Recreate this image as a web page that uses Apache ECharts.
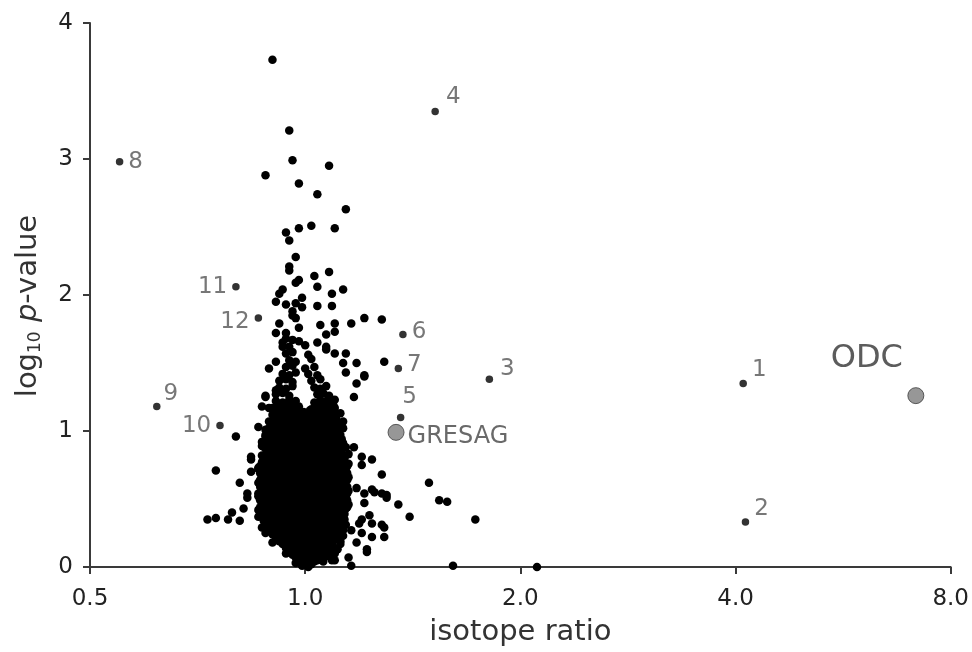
<!DOCTYPE html>
<html><head><meta charset="utf-8">
<script src="https://cdn.jsdelivr.net/npm/echarts@6/dist/echarts.min.js"></script>
<style>html,body{margin:0;padding:0;background:#fff}#c{width:972px;height:652px}</style>
</head><body><div id="c"></div>
<script>
// ---- labelled proteins (isotope ratio, log10 p-value) ----
const geneNames = ['1','2','3','4','5','6','7','8','9','10','11','12'];
const geneRatio = [4.10, 4.13, 1.81, 1.52, 1.36, 1.37, 1.35, 0.55, 0.62, 0.76, 0.80, 0.86];
const geneLogP  = [1.35, 0.33, 1.38, 3.35, 1.10, 1.71, 1.46, 2.98, 1.18, 1.04, 2.06, 1.83];

// ---- highlighted proteins ----
const markerNames = ['GRESAG', 'ODC'];
const markerRatio = [1.34, 7.15];
const markerLogP  = [0.99, 1.26];

// ---- axis ticks ----
const xTicks = [0.5, 1.0, 2.0, 4.0, 8.0];
const yTicks = [0, 1, 2, 3, 4];

// ---- unlabelled proteins: dense core [ratio, log10 p] ----
const cloudCore = [
[0.99,0.01],[1.00,0.03],[1.02,0.02],[1.03,0.04],[1.01,0.00],
[0.97,0.07],[0.99,0.06],[1.01,0.08],[1.03,0.07],[1.05,0.06],[1.07,0.08],[1.09,0.05],
[0.95,0.12],[0.97,0.11],[0.99,0.13],[1.01,0.12],[1.03,0.11],[1.05,0.13],[1.07,0.12],[1.09,0.11],[1.11,0.13],
[0.93,0.17],[0.95,0.16],[0.97,0.18],[0.99,0.17],[1.01,0.16],[1.03,0.18],[1.05,0.17],[1.07,0.16],[1.09,0.18],[1.12,0.17],
[0.91,0.22],[0.93,0.21],[0.95,0.23],[0.97,0.22],[0.99,0.21],[1.01,0.23],[1.03,0.22],[1.05,0.21],[1.07,0.23],[1.09,0.22],[1.11,0.21],[1.13,0.23],
[0.89,0.27],[0.91,0.28],[0.93,0.26],[0.95,0.27],[0.97,0.28],[0.99,0.26],[1.01,0.27],[1.03,0.28],[1.05,0.26],[1.07,0.27],[1.09,0.28],[1.11,0.26],[1.13,0.27],
[0.88,0.32],[0.90,0.31],[0.92,0.33],[0.94,0.32],[0.96,0.31],[0.98,0.33],[1.00,0.32],[1.02,0.31],[1.04,0.33],[1.06,0.32],[1.08,0.31],[1.10,0.33],[1.12,0.32],[1.14,0.31],
[0.87,0.37],[0.89,0.38],[0.91,0.36],[0.93,0.37],[0.95,0.38],[0.97,0.36],[0.99,0.37],[1.01,0.38],[1.03,0.36],[1.05,0.37],[1.07,0.38],[1.09,0.36],[1.11,0.37],[1.13,0.38],
[0.86,0.42],[0.88,0.41],[0.90,0.43],[0.92,0.42],[0.94,0.41],[0.96,0.43],[0.98,0.42],[1.00,0.41],[1.02,0.43],[1.04,0.42],[1.06,0.41],[1.08,0.43],[1.10,0.42],[1.12,0.41],[1.14,0.43],
[0.87,0.47],[0.89,0.48],[0.91,0.46],[0.93,0.47],[0.95,0.48],[0.97,0.46],[0.99,0.47],[1.01,0.48],[1.03,0.46],[1.05,0.47],[1.07,0.48],[1.09,0.46],[1.11,0.47],[1.13,0.48],[1.15,0.46],
[0.86,0.52],[0.88,0.51],[0.90,0.53],[0.92,0.52],[0.94,0.51],[0.96,0.53],[0.98,0.52],[1.00,0.51],[1.02,0.53],[1.04,0.52],[1.06,0.51],[1.08,0.53],[1.10,0.52],[1.12,0.51],[1.14,0.53],
[0.87,0.57],[0.89,0.58],[0.91,0.56],[0.93,0.57],[0.95,0.58],[0.97,0.56],[0.99,0.57],[1.01,0.58],[1.03,0.56],[1.05,0.57],[1.07,0.58],[1.09,0.56],[1.11,0.57],[1.13,0.58],[1.15,0.56],
[0.86,0.62],[0.88,0.61],[0.90,0.63],[0.92,0.62],[0.94,0.61],[0.96,0.63],[0.98,0.62],[1.00,0.61],[1.02,0.63],[1.04,0.62],[1.06,0.61],[1.08,0.63],[1.10,0.62],[1.12,0.61],[1.14,0.63],
[0.87,0.67],[0.89,0.68],[0.91,0.66],[0.93,0.67],[0.95,0.68],[0.97,0.66],[0.99,0.67],[1.01,0.68],[1.03,0.66],[1.05,0.67],[1.07,0.68],[1.09,0.66],[1.11,0.67],[1.13,0.68],[1.15,0.66],
[0.86,0.72],[0.88,0.71],[0.90,0.73],[0.92,0.72],[0.94,0.71],[0.96,0.73],[0.98,0.72],[1.00,0.71],[1.02,0.73],[1.04,0.72],[1.06,0.71],[1.08,0.73],[1.10,0.72],[1.12,0.71],[1.14,0.73],
[0.87,0.77],[0.89,0.78],[0.91,0.76],[0.93,0.77],[0.95,0.78],[0.97,0.76],[0.99,0.77],[1.01,0.78],[1.03,0.76],[1.05,0.77],[1.07,0.78],[1.09,0.76],[1.11,0.77],[1.13,0.78],[1.15,0.76],
[0.87,0.82],[0.89,0.81],[0.91,0.83],[0.93,0.82],[0.95,0.81],[0.97,0.83],[0.99,0.82],[1.01,0.81],[1.03,0.83],[1.05,0.82],[1.07,0.81],[1.09,0.83],[1.11,0.82],[1.13,0.81],[1.15,0.83],
[0.88,0.87],[0.90,0.88],[0.92,0.86],[0.94,0.87],[0.96,0.88],[0.98,0.86],[1.00,0.87],[1.02,0.88],[1.04,0.86],[1.06,0.87],[1.08,0.88],[1.10,0.86],[1.12,0.87],[1.14,0.88],
[0.87,0.92],[0.89,0.91],[0.91,0.93],[0.93,0.92],[0.95,0.91],[0.97,0.93],[0.99,0.92],[1.01,0.91],[1.03,0.93],[1.05,0.92],[1.07,0.91],[1.09,0.93],[1.11,0.92],[1.13,0.91],
[0.88,0.97],[0.90,0.98],[0.92,0.96],[0.94,0.97],[0.96,0.98],[0.98,0.96],[1.00,0.97],[1.02,0.98],[1.04,0.96],[1.06,0.97],[1.08,0.98],[1.10,0.96],[1.12,0.97],
[0.89,1.02],[0.91,1.01],[0.93,1.03],[0.95,1.02],[0.97,1.01],[0.99,1.03],[1.01,1.02],[1.03,1.01],[1.05,1.03],[1.07,1.02],[1.09,1.01],[1.11,1.03],[1.13,1.02],
[0.89,1.07],[0.91,1.08],[0.93,1.06],[0.95,1.07],[0.97,1.08],[0.99,1.06],[1.01,1.07],[1.03,1.08],[1.05,1.06],[1.07,1.07],[1.09,1.08],[1.11,1.06],
[0.90,1.12],[0.92,1.11],[0.94,1.13],[0.96,1.12],[0.98,1.11],[1.00,1.13],[1.02,1.12],[1.04,1.11],[1.06,1.13],[1.08,1.12],[1.10,1.11],
[0.90,1.17],[0.92,1.18],[0.94,1.16],[0.96,1.17],[0.98,1.18],[1.02,1.16],[1.04,1.17],[1.06,1.18],[1.08,1.16],[1.10,1.17],
[0.91,1.22],[0.93,1.21],[0.95,1.23],[0.97,1.22],[1.03,1.21],[1.05,1.23],[1.07,1.22],[1.09,1.21],
[0.91,1.27],[0.93,1.28],[0.95,1.26],[1.04,1.27],[1.06,1.28],[1.08,1.26],
[0.92,1.32],[0.94,1.31],[0.96,1.33],[1.03,1.32],[1.05,1.31],[1.07,1.33],
[0.92,1.37],[0.94,1.38],[0.96,1.36],[1.02,1.37],[1.05,1.38],
[0.93,1.42],[0.95,1.41],[0.97,1.43],[1.01,1.42],[1.04,1.41],
[0.94,1.47],[0.96,1.48],[1.00,1.46],[1.03,1.47],
[0.95,1.52],[0.97,1.51],[1.02,1.53],
[0.94,1.57],[0.96,1.58],[1.01,1.56],
[0.95,1.62],[1.00,1.63],
[0.96,1.67],[0.98,1.66]
];

// ---- unlabelled proteins: dense core, in-between rows ----
const cloudCoreFill = [
[0.98,0.04],[1.00,0.05],[1.02,0.04],[1.04,0.05],[1.06,0.04],
[0.96,0.09],[0.98,0.10],[1.00,0.09],[1.02,0.10],[1.04,0.09],[1.06,0.10],[1.08,0.09],[1.10,0.10],
[0.94,0.14],[0.96,0.15],[0.98,0.14],[1.00,0.15],[1.02,0.14],[1.04,0.15],[1.06,0.14],[1.08,0.15],[1.10,0.14],
[0.92,0.19],[0.94,0.20],[0.96,0.19],[0.98,0.20],[1.00,0.19],[1.02,0.20],[1.04,0.19],[1.06,0.20],[1.08,0.19],[1.10,0.20],[1.12,0.19],
[0.90,0.24],[0.92,0.25],[0.94,0.24],[0.96,0.25],[0.98,0.24],[1.00,0.25],[1.02,0.24],[1.04,0.25],[1.06,0.24],[1.08,0.25],[1.10,0.24],[1.12,0.25],
[0.885,0.29],[0.905,0.30],[0.925,0.29],[0.945,0.30],[0.965,0.29],[0.985,0.30],[1.005,0.29],[1.025,0.30],[1.045,0.29],[1.065,0.30],[1.085,0.29],[1.105,0.30],[1.125,0.29],
[0.875,0.34],[0.895,0.35],[0.915,0.34],[0.935,0.35],[0.955,0.34],[0.975,0.35],[0.995,0.34],[1.015,0.35],[1.035,0.34],[1.055,0.35],[1.075,0.34],[1.095,0.35],[1.115,0.34],[1.135,0.35],
[0.865,0.39],[0.885,0.40],[0.905,0.39],[0.925,0.40],[0.945,0.39],[0.965,0.40],[0.985,0.39],[1.005,0.40],[1.025,0.39],[1.045,0.40],[1.065,0.39],[1.085,0.40],[1.105,0.39],[1.125,0.40],[1.135,0.39],
[0.865,0.44],[0.885,0.45],[0.905,0.44],[0.925,0.45],[0.945,0.44],[0.965,0.45],[0.985,0.44],[1.005,0.45],[1.025,0.44],[1.045,0.45],[1.065,0.44],[1.085,0.45],[1.105,0.44],[1.125,0.45],[1.145,0.44],
[0.865,0.49],[0.885,0.50],[0.905,0.49],[0.925,0.50],[0.945,0.49],[0.965,0.50],[0.985,0.49],[1.005,0.50],[1.025,0.49],[1.045,0.50],[1.065,0.49],[1.085,0.50],[1.105,0.49],[1.125,0.50],[1.145,0.49],
[0.865,0.54],[0.885,0.55],[0.905,0.54],[0.925,0.55],[0.945,0.54],[0.965,0.55],[0.985,0.54],[1.005,0.55],[1.025,0.54],[1.045,0.55],[1.065,0.54],[1.085,0.55],[1.105,0.54],[1.125,0.55],[1.145,0.54],
[0.865,0.59],[0.885,0.60],[0.905,0.59],[0.925,0.60],[0.945,0.59],[0.965,0.60],[0.985,0.59],[1.005,0.60],[1.025,0.59],[1.045,0.60],[1.065,0.59],[1.085,0.60],[1.105,0.59],[1.125,0.60],[1.145,0.59],
[0.865,0.64],[0.885,0.65],[0.905,0.64],[0.925,0.65],[0.945,0.64],[0.965,0.65],[0.985,0.64],[1.005,0.65],[1.025,0.64],[1.045,0.65],[1.065,0.64],[1.085,0.65],[1.105,0.64],[1.125,0.65],[1.145,0.64],
[0.865,0.69],[0.885,0.70],[0.905,0.69],[0.925,0.70],[0.945,0.69],[0.965,0.70],[0.985,0.69],[1.005,0.70],[1.025,0.69],[1.045,0.70],[1.065,0.69],[1.085,0.70],[1.105,0.69],[1.125,0.70],[1.145,0.69],
[0.865,0.74],[0.885,0.75],[0.905,0.74],[0.925,0.75],[0.945,0.74],[0.965,0.75],[0.985,0.74],[1.005,0.75],[1.025,0.74],[1.045,0.75],[1.065,0.74],[1.085,0.75],[1.105,0.74],[1.125,0.75],[1.145,0.74],
[0.875,0.79],[0.895,0.80],[0.915,0.79],[0.935,0.80],[0.955,0.79],[0.975,0.80],[0.995,0.79],[1.015,0.80],[1.035,0.79],[1.055,0.80],[1.075,0.79],[1.095,0.80],[1.115,0.79],[1.135,0.80],
[0.885,0.84],[0.905,0.85],[0.925,0.84],[0.945,0.85],[0.965,0.84],[0.985,0.85],[1.005,0.84],[1.025,0.85],[1.045,0.84],[1.065,0.85],[1.085,0.84],[1.105,0.85],[1.125,0.84],
[0.885,0.89],[0.905,0.90],[0.925,0.89],[0.945,0.90],[0.965,0.89],[0.985,0.90],[1.005,0.89],[1.025,0.90],[1.045,0.89],[1.065,0.90],[1.085,0.89],[1.105,0.90],[1.125,0.89],
[0.885,0.94],[0.905,0.95],[0.925,0.94],[0.945,0.95],[0.965,0.94],[0.985,0.95],[1.005,0.94],[1.025,0.95],[1.045,0.94],[1.065,0.95],[1.085,0.94],[1.105,0.95],[1.125,0.94],
[0.895,0.99],[0.915,1.00],[0.935,0.99],[0.955,1.00],[0.975,0.99],[0.995,1.00],[1.015,0.99],[1.035,1.00],[1.055,0.99],[1.075,1.00],[1.095,0.99],[1.115,1.00],
[0.905,1.04],[0.925,1.05],[0.945,1.04],[0.965,1.05],[0.985,1.04],[1.005,1.05],[1.025,1.04],[1.045,1.05],[1.065,1.04],[1.085,1.05],[1.105,1.04],
[0.905,1.09],[0.925,1.10],[0.945,1.09],[0.965,1.10],[0.985,1.09],[1.005,1.10],[1.025,1.09],[1.045,1.10],[1.065,1.09],[1.085,1.10],[1.105,1.09],
[0.915,1.14],[0.935,1.15],[0.955,1.14],[0.975,1.15],[0.995,1.14],[1.015,1.15],[1.035,1.14],[1.055,1.15],[1.075,1.14],[1.095,1.15],
[0.915,1.19],[0.935,1.20],[0.955,1.19],[1.035,1.20],[1.055,1.19],[1.075,1.20],[1.095,1.19]
];

// ---- unlabelled proteins: sparse upper column ----
const cloudUpper = [
[0.90,3.73],[0.95,3.21],[0.96,2.99],[1.08,2.95],[0.88,2.88],[0.98,2.82],[1.04,2.74],[1.14,2.63],
[1.10,2.49],[1.02,2.51],[0.98,2.49],[0.94,2.46],[0.95,2.40],[0.97,2.28],[0.95,2.21],[0.95,2.18],
[1.03,2.14],[1.08,2.17],[0.98,2.11],[0.97,2.09],[1.04,2.06],[1.13,2.04],[0.93,2.04],[0.92,2.01],
[1.09,2.01],[0.99,1.98],[0.91,1.95],[0.94,1.93],[0.97,1.94],[0.99,1.91],[1.04,1.92],[1.09,1.92],
[0.96,1.88],[0.96,1.85],[0.97,1.83],[1.21,1.83],[1.28,1.82],[1.16,1.79],[1.10,1.79],[1.05,1.78],
[0.92,1.79],[0.98,1.76],[1.10,1.73],[1.07,1.71],[0.94,1.72],[0.94,1.68],[0.93,1.65],[1.04,1.65],[1.07,1.62]
];

// ---- unlabelled proteins: left flank ----
const cloudLeft = [
[0.80,0.96],[0.75,0.71],[0.73,0.35],[0.75,0.36],[0.78,0.35],[0.79,0.40],[0.81,0.34],[0.82,0.43],
[0.83,0.51],[0.83,0.54],[0.81,0.62],[0.86,0.37],[0.84,0.79],[0.86,1.03],[0.87,1.18],[0.88,1.25],
[0.89,1.46],[0.91,1.51],[0.91,1.72],[0.93,1.62],[0.88,0.96],[0.89,0.88],[0.87,0.89],[0.88,0.81],
[0.86,0.73],[0.87,0.64],[0.86,0.54],[0.87,0.49],[0.88,0.44],[0.87,0.29],[0.88,0.25],[0.90,0.18],
[0.94,0.10],[0.97,0.03],[0.84,0.70],[0.88,1.26],[0.89,1.17],[0.88,1.01],[0.91,1.30],[0.84,0.81]
];

// ---- unlabelled proteins: right flank ----
const cloudRight = [
[1.29,1.51],[1.21,1.40],[1.17,1.25],[1.18,1.50],[1.14,1.57],[1.10,1.57],[1.07,1.60],[1.13,1.50],
[1.14,1.43],[1.21,1.41],[1.18,1.35],[1.10,1.23],[1.12,1.13],[1.13,1.07],[1.11,1.01],
[1.28,0.68],[1.49,0.62],[1.54,0.49],[1.58,0.48],[1.73,0.35],[1.40,0.37],[1.35,0.46],[1.30,0.53],
[1.25,0.55],[1.29,0.22],[1.29,0.29],[1.22,0.13],[1.16,0.01],[1.61,0.01],[2.11,0.00],[1.17,0.88],
[1.20,0.81],[1.24,0.79],[1.20,0.75],[1.18,0.58],[1.21,0.54],[1.24,0.57],[1.28,0.54],[1.30,0.51],
[1.21,0.47],[1.23,0.38],[1.20,0.35],[1.19,0.32],[1.24,0.32],[1.28,0.31],[1.16,0.27],[1.20,0.25],
[1.24,0.22],[1.18,0.18],[1.22,0.11],[1.15,0.07],[1.10,0.05]
];

// ---- styling (not data) ----
const FONT = 'DejaVu Sans';
const labelPlacement = {
  '1':  {position: 'right', offset: [0, -13]},
  '2':  {position: 'right', offset: [0, -13]},
  '3':  {position: 'right', offset: [2, -10]},
  '4':  {position: 'right', offset: [2, -14]},
  '5':  {position: 'top',   offset: [9, 0]},
  '6':  {position: 'right', offset: [0, -2]},
  '7':  {position: 'right', offset: [0, -3]},
  '8':  {position: 'right', offset: [0, 0]},
  '9':  {position: 'right', offset: [-2, -12]},
  '10': {position: 'left',  offset: [0, 0]},
  '11': {position: 'left',  offset: [0, 0]},
  '12': {position: 'left',  offset: [0, 4]},
  'GRESAG': {position: 'right', offset: [-2, 4], fontSize: 24, color: '#444'},
  'ODC':    {position: 'top',   offset: [-49, -7], fontSize: 32, color: '#333'}
};

const allCloud = [].concat(cloudCore, cloudCoreFill, cloudUpper, cloudLeft, cloudRight);

const geneData = geneNames.map((n, i) => ({
  name: n, value: [geneRatio[i], geneLogP[i]],
  label: Object.assign({show: true, formatter: n, fontSize: 23, color: '#555', fontFamily: FONT}, labelPlacement[n])
}));
const markerData = markerNames.map((n, i) => ({
  name: n, value: [markerRatio[i], markerLogP[i]],
  label: Object.assign({show: true, formatter: n, fontFamily: FONT}, labelPlacement[n])
}));

const chart = echarts.init(document.getElementById('c'), null, {renderer: 'canvas'});
chart.setOption({
  animation: false,
  backgroundColor: '#fff',
  grid: {left: 90, right: 19, top: 23, bottom: 85},
  xAxis: {
    type: 'log', logBase: 2, min: xTicks[0], max: xTicks[xTicks.length - 1],
    name: 'isotope ratio', nameLocation: 'middle', nameGap: 51, nameMoveOverlap: false,
    nameTextStyle: {fontSize: 29, fontFamily: FONT, color: '#333', verticalAlign: 'top'},
    axisLine: {lineStyle: {color: '#3a3a3a', width: 2}},
    axisTick: {show: true, length: 7, lineStyle: {color: '#3a3a3a', width: 2}},
    axisLabel: {margin: 21, fontSize: 23, fontFamily: FONT, color: '#222',
      formatter: v => Number(v).toFixed(1)},
    splitLine: {show: false}, minorTick: {show: false}
  },
  yAxis: {
    type: 'value', min: yTicks[0], max: yTicks[yTicks.length - 1], interval: 1,
    name: '{a|log}{b|10}{a| }{c|p}{d|-value}', nameLocation: 'middle', nameGap: 46, nameMoveOverlap: false,
    nameTextStyle: {
      rich: {
        a: {fontSize: 29, fontFamily: FONT, color: '#333'},
        b: {fontSize: 17, fontFamily: FONT, color: '#333', padding: [14, 0, 0, 0]},
        c: {fontSize: 29, fontFamily: FONT, color: '#333', fontStyle: 'italic'},
        d: {fontSize: 29, fontFamily: FONT, color: '#333', padding: [0, 22, 0, 0]}
      }
    },
    axisLine: {show: true, lineStyle: {color: '#3a3a3a', width: 2}},
    axisTick: {show: true, length: 7, lineStyle: {color: '#3a3a3a', width: 2}},
    axisLabel: {margin: 17, fontSize: 23, fontFamily: FONT, color: '#222'},
    splitLine: {show: false}
  },
  series: [
    {type: 'scatter', data: allCloud, symbol: 'circle', symbolSize: 8.5,
     itemStyle: {color: '#000', opacity: 1}, silent: true, z: 2},
    {type: 'scatter', data: geneData, symbol: 'circle', symbolSize: 7.5,
     itemStyle: {color: '#000'}, silent: true, z: 3},
    {type: 'scatter', data: markerData, symbol: 'circle', symbolSize: 16,
     itemStyle: {color: '#7d7d7d', borderColor: '#3c3c3c', borderWidth: 1}, silent: true, z: 4}
  ]
});
</script>
</body></html>
